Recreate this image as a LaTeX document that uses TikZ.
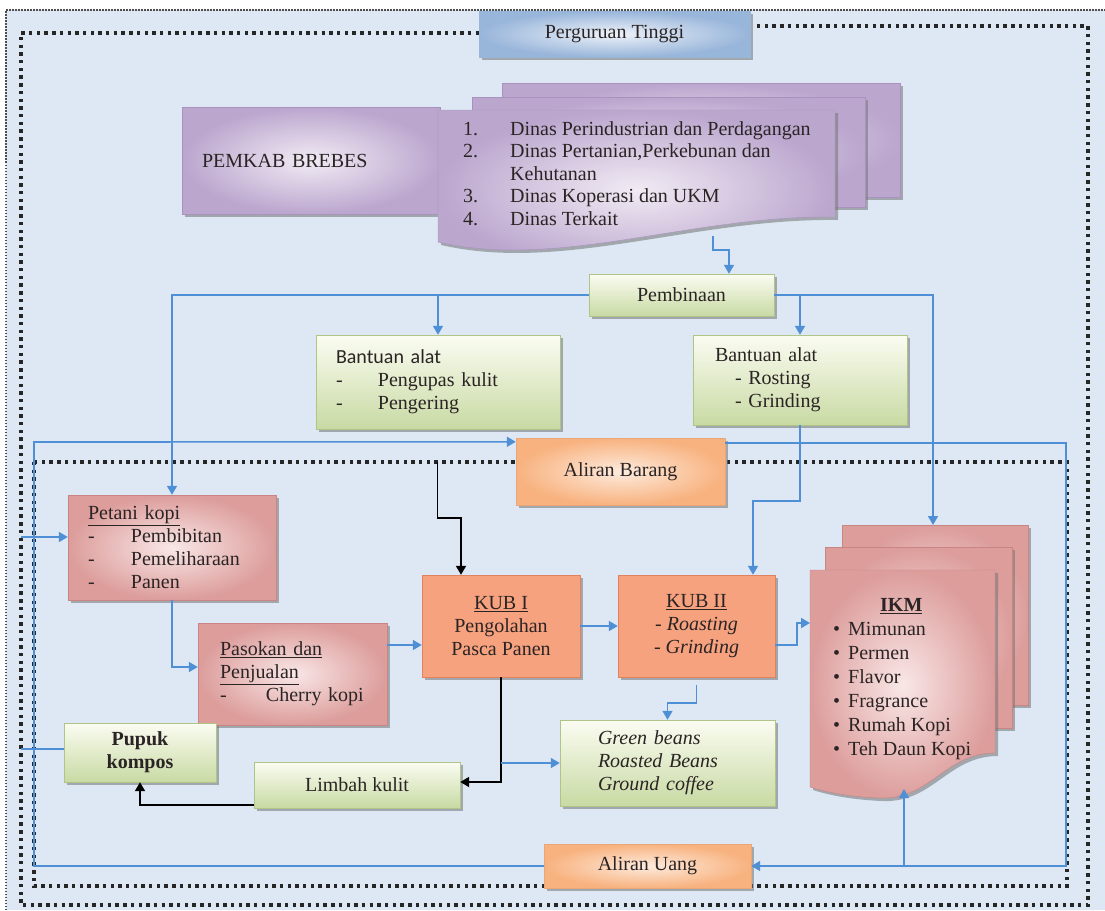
\documentclass[tikz,border=0pt]{standalone}
\usepackage{fontspec}
\setmainfont{Liberation Serif}
\newfontfamily\sansfont{Carlito}
\usetikzlibrary{arrows.meta,shadows}

\definecolor{bgblue}{HTML}{DDE8F4}
\definecolor{lineblue}{HTML}{4F8FD6}
\definecolor{textgray}{HTML}{2B2424}
\definecolor{greentop}{HTML}{FBFCF2}
\definecolor{greenbot}{HTML}{C8DAA3}
\definecolor{greenline}{HTML}{AFC487}
\definecolor{pinkin}{HTML}{F9E7E7}
\definecolor{pinkout}{HTML}{DC9D9B}
\definecolor{pinkline}{HTML}{C98584}
\definecolor{kubfill}{HTML}{F6A27F}
\definecolor{kubline}{HTML}{E0825D}
\definecolor{flowin}{HTML}{FDEBDD}
\definecolor{flowout}{HTML}{F8B27F}
\definecolor{flowline}{HTML}{E9A677}
\definecolor{ptin}{HTML}{EEF3FA}
\definecolor{ptout}{HTML}{98B5DA}
\definecolor{purpin}{HTML}{F1EBF4}
\definecolor{purpout}{HTML}{BBA6CE}
\definecolor{purpline}{HTML}{A993BE}

\newcommand{\bigfont}{\fontsize{20}{23}\selectfont}

\tikzset{
  box/.style={rectangle, inner sep=0pt, font=\bigfont, text=textgray,
    drop shadow={shadow xshift=3pt, shadow yshift=-3pt, fill=black!55, opacity=0.55}},
  greenbox/.style={box, draw=greenline, top color=greentop, bottom color=greenbot},
  pinkbox/.style={box, draw=pinkline, inner color=pinkin, outer color=pinkout},
  kubbox/.style={box, draw=kubline, fill=kubfill},
  flowbox/.style={box, draw=flowline, inner color=flowin, outer color=flowout},
  ptbox/.style={box, draw=ptout, inner color=ptin, outer color=ptout},
  purplebox/.style={box, draw=purpline, inner color=purpin, outer color=purpout},
  purpledoc/.style={draw=purpline, inner color=purpin, outer color=purpout,
    drop shadow={shadow xshift=3pt, shadow yshift=-3pt, fill=black!55, opacity=0.55}},
  pinkdoc/.style={draw=pinkline, inner color=pinkin, outer color=pinkout,
    drop shadow={shadow xshift=3pt, shadow yshift=-3pt, fill=black!55, opacity=0.55}},
  blueline/.style={draw=lineblue, line width=1.6pt},
  bluearrow/.style={blueline, -{Triangle[width=10pt,length=9pt]}},
  blackarrow/.style={draw=black, line width=1.8pt, -{Triangle[width=10pt,length=9pt]}},
  bigdots/.style={draw=black!85, line width=3.4pt, dash pattern=on 3.4pt off 4.3pt},
  smalldots/.style={draw=black!70, line width=1.2pt, dash pattern=on 1.5pt off 1.5pt}
}

\begin{document}
\begin{tikzpicture}[x=1pt, y=-1pt]
  \useasboundingbox (0,0) rectangle (1105,910);
  % background
  \fill[white] (0,0) rectangle (1105,910);
  \fill[bgblue] (6,10) rectangle (1105,910);

  % frames
  \draw[smalldots] (6,910) -- (6,10) -- (1105,10);
  \draw[bigdots] (479,33) -- (21,33) -- (21,905) -- (1088,905) -- (1088,26) -- (754,26);
  \draw[bigdots] (34,462) rectangle (1067,886);

  % government
  \node[ptbox, minimum width=271pt, minimum height=46pt] (pt) at (614.5,34) {Perguruan Tinggi};
  \node[purplebox, text width=218pt, inner xsep=20pt, minimum height=107pt, align=left] (pemkab) at (311,160.5) {PEMKAB BREBES};

  \path[purpledoc] (502,83) rectangle (900,197);
  \path[purpledoc] (472,97) rectangle (865,207);
  \path[purpledoc] (438,110) -- (835,110) -- (835,217) .. controls (690,215) and (560,270) .. (438,242) -- cycle;
  \node[anchor=north west, inner sep=0pt, align=left, font=\fontsize{20}{22.5}\selectfont, text=textgray] (dinas) at (463,121)
    {\makebox[47pt][l]{1.}Dinas Perindustrian dan Perdagangan\\
     \makebox[47pt][l]{2.}Dinas Pertanian,Perkebunan dan\\
     \hspace*{47pt}Kehutanan\\
     \makebox[47pt][l]{3.}Dinas Koperasi dan UKM\\
     \makebox[47pt][l]{4.}Dinas Terkait};
  \coordinate (docbot) at (713,236);

  % guidance
  \node[greenbox, minimum width=185pt, minimum height=42pt] (pembinaan) at (681.5,295) {Pembinaan};
  \node[greenbox, text width=204pt, inner xsep=20pt, minimum height=94pt, align=left] (alat1) at (438,382)
    {{\sansfont Bantuan alat}\\
     \makebox[42pt][l]{-}Pengupas kulit\\
     \makebox[42pt][l]{-}Pengering};
  \node[greenbox, text width=170pt, inner xsep=22pt, minimum height=90pt, align=left] (alat2) at (800,380)
    {Bantuan alat\\
     \hspace*{20pt}- Rosting\\
     \hspace*{20pt}- Grinding};
  \node[flowbox, minimum width=209pt, minimum height=67pt] (barang) at (620.5,471.5) {Aliran Barang};

  % production
  \node[pinkbox, text width=168pt, inner xsep=20pt, minimum height=105pt, align=left] (petani) at (172,547.5)
    {\underline{Petani kopi}\\
     \makebox[43pt][l]{-}Pembibitan\\
     \makebox[43pt][l]{-}Pemeliharaan\\
     \makebox[43pt][l]{-}Panen};
  \node[pinkbox, text width=145pt, inner xsep=22pt, minimum height=102pt, align=left] (pasokan) at (292.5,674)
    {\underline{Pasokan dan}\\
     \underline{Penjualan}\\
     \makebox[46pt][l]{-}Cherry kopi};
  \node[kubbox, minimum width=158pt, minimum height=102pt, align=center] (kub1) at (501,626)
    {\underline{KUB I}\\ Pengolahan\\ Pasca Panen};
  \node[kubbox, minimum width=157pt, minimum height=102pt, align=center] (kub2) at (696.5,626)
    {\underline{KUB II}\\ - \textit{Roasting}\\ - \textit{Grinding}};
  \node[greenbox, text width=139pt, inner xsep=38pt, minimum height=86pt, align=left, font=\bigfont\itshape] (green) at (667.5,763)
    {Green beans\\ Roasted Beans\\ Ground coffee};
  \node[greenbox, minimum width=206pt, minimum height=46pt] (limbah) at (357,785) {Limbah kulit};
  \node[greenbox, minimum width=152pt, minimum height=59pt, align=center, font=\bigfont\bfseries] (pupuk) at (140,752.5) {Pupuk\\ kompos};
  \node[flowbox, minimum width=207pt, minimum height=44pt] (uang) at (647.5,866) {Aliran Uang};

  % industry
  \path[pinkdoc] (842,525) rectangle (1028,705);
  \path[pinkdoc] (825,547) rectangle (1012,728);
  \path[pinkdoc] (810,570) -- (995,570) -- (995,753) .. controls (945,753) and (930,800) .. (880,798) .. controls (850,797) and (825,792) .. (810,787) -- cycle;
  \node[anchor=north west, inner sep=0pt, align=left, font=\fontsize{20}{24}\selectfont, text=textgray] (ikm) at (833,598)
    {\hspace*{47pt}\textbf{\underline{IKM}}\\
     \makebox[15pt][l]{\textbullet}Mimunan\\
     \makebox[15pt][l]{\textbullet}Permen\\
     \makebox[15pt][l]{\textbullet}Flavor\\
     \makebox[15pt][l]{\textbullet}Fragrance\\
     \makebox[15pt][l]{\textbullet}Rumah Kopi\\
     \makebox[15pt][l]{\textbullet}Teh Daun Kopi};
  \coordinate (ikmtop) at (933,525);
  \coordinate (ikmin) at (810,623);
  \coordinate (ikmbot) at (904,789);

  % guidance arrows
  \draw[bluearrow] (docbot) -- ++(0,14) -| ([xshift=47.5pt]pembinaan.north);
  \draw[bluearrow] (pembinaan.west) -| (petani.north);
  \draw[bluearrow] (alat1.north |- pembinaan.west) -- (alat1.north);
  \draw[bluearrow] (pembinaan.east) -| (ikmtop);
  \draw[bluearrow] (alat2.north |- pembinaan.east) -- (alat2.north);
  \draw[bluearrow] (alat2.south) -- ++(0,76) -| ([xshift=56.5pt]kub2.north);

  % goods and money
  \coordinate (lloop) at (34,442);
  \coordinate (rloop) at (1066,443);
  \draw[bluearrow] (uang.west) -| (lloop) -- ([yshift=-4pt]barang.north west);
  \draw[bluearrow] ([yshift=-5pt]barang.north east) -| (rloop |- uang.east) -- (uang.east);
  \draw[bluearrow] (ikmbot |- uang.east) -- (ikmbot);
  \coordinate (farmin) at (21,537);
  \draw[bluearrow] (farmin) -- (farmin -| petani.west);
  \coordinate (compin) at (21,749);
  \draw[blueline] (compin) -- (compin -| pupuk.west);

  % product flow
  \draw[bluearrow] (petani.south) |- ([yshift=7pt]pasokan.west);
  \draw[bluearrow] ([yshift=29pt]pasokan.east) -- ([yshift=-19pt]kub1.west);
  \draw[bluearrow] (kub1.east) -- (kub2.west);
  \draw[bluearrow] ([yshift=-19pt]kub2.east) -- ++(22,0) |- (ikmin);
  \draw[bluearrow] ([yshift=-8pt]kub2.south) -- ++(0,18) -| (green.north);
  \coordinate (kubin) at (437.5,462);
  \draw[blackarrow] (kubin) -- ++(0,56) -| ([xshift=-40pt]kub1.north);
  \draw[blackarrow] (kub1.south) |- ([yshift=3pt]limbah.east);
  \draw[bluearrow] (kub1.south |- green.west) -- (green.west);
  \draw[blackarrow] ([yshift=-20pt]limbah.west) -| (pupuk.south);
\end{tikzpicture}
\end{document}
